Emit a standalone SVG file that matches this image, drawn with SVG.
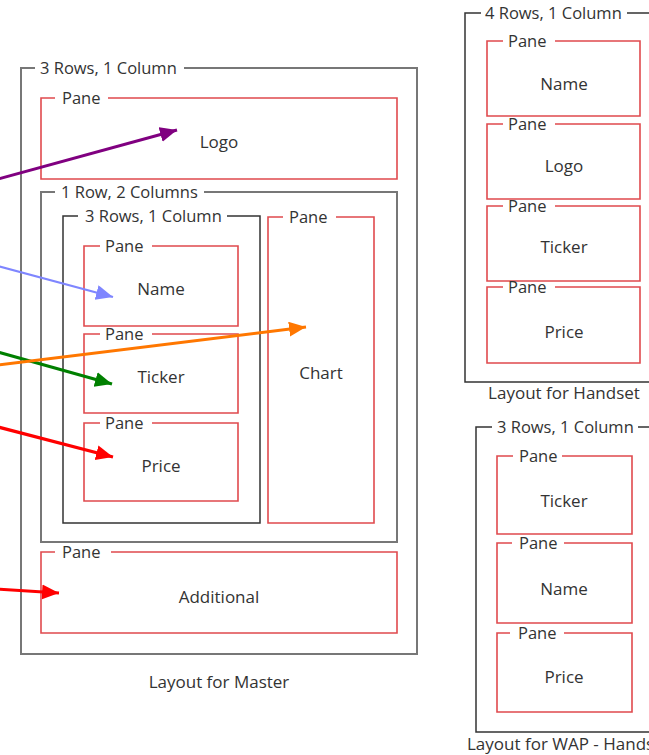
<svg xmlns="http://www.w3.org/2000/svg" width="649" height="755" viewBox="0 0 649 755">
<style>
text{font-family:"Open Sans","Liberation Sans",sans-serif;fill:#333;}
.lbl{font-size:16.5px;}
.name{font-size:17px;text-anchor:middle;}
.grp{fill:none;stroke:#777;stroke-width:2;}
.grpd{fill:none;stroke:#333;stroke-width:1.5;}
.pane{fill:none;stroke:#e04a4e;stroke-width:1.6;}
.conn{fill:none;}
</style>
<defs>
<marker id="ah-purple" markerUnits="userSpaceOnUse" markerWidth="18" markerHeight="16" refX="17" refY="7.5" orient="auto"><path d="M0,0 L17,7.5 L0,15 z" fill="#800080"/></marker>
<marker id="ah-blue" markerUnits="userSpaceOnUse" markerWidth="18" markerHeight="16" refX="17" refY="7.5" orient="auto"><path d="M0,0 L17,7.5 L0,15 z" fill="#7f86ff"/></marker>
<marker id="ah-green" markerUnits="userSpaceOnUse" markerWidth="18" markerHeight="16" refX="17" refY="7.5" orient="auto"><path d="M0,0 L17,7.5 L0,15 z" fill="#008000"/></marker>
<marker id="ah-orange" markerUnits="userSpaceOnUse" markerWidth="18" markerHeight="16" refX="17" refY="7.5" orient="auto"><path d="M0,0 L17,7.5 L0,15 z" fill="#ff7700"/></marker>
<marker id="ah-red" markerUnits="userSpaceOnUse" markerWidth="18" markerHeight="16" refX="17" refY="7.5" orient="auto"><path d="M0,0 L17,7.5 L0,15 z" fill="#ff0000"/></marker>
</defs>
<rect width="649" height="755" fill="#fff"/>

<!-- Master layout -->
<g id="master">
<path class="grp" d="M184,68 H417 V654 H21 V68 H35"/>
<text class="lbl" x="40" y="74">3 Rows, 1 Column</text>
<text class="name" x="219" y="688">Layout for Master</text>
</g>
<g id="pane-logo">
<path class="pane" d="M108,98 H397 V179 H41 V98 H55"/>
<text class="lbl" x="62" y="104">Pane</text>
<text class="name" x="219" y="148">Logo</text>
</g>
<g id="row-2cols">
<path class="grp" d="M204,192 H397 V542 H41 V192 H55"/>
<text class="lbl" x="61" y="198">1 Row, 2 Columns</text>
</g>
<g id="inner-3rows">
<path class="grpd" d="M227,216 H260 V523 H63 V216 H78"/>
<text class="lbl" x="85" y="222">3 Rows, 1 Column</text>
</g>
<g id="pane-chart">
<path class="pane" d="M336,217 H374 V523 H268 V217 H283"/>
<text class="lbl" x="289" y="223">Pane</text>
<text class="name" x="321" y="379">Chart</text>
</g>
<g id="pane-name">
<path class="pane" d="M152,246 H238 V326 H84 V246 H100"/>
<text class="lbl" x="105" y="252">Pane</text>
<text class="name" x="161" y="295">Name</text>
</g>
<g id="pane-ticker">
<path class="pane" d="M152,334 H238 V413 H84 V334 H100"/>
<text class="lbl" x="105" y="340">Pane</text>
<text class="name" x="161" y="383">Ticker</text>
</g>
<g id="pane-price">
<path class="pane" d="M152,423 H238 V501 H84 V423 H100"/>
<text class="lbl" x="105" y="429">Pane</text>
<text class="name" x="161" y="472">Price</text>
</g>
<g id="pane-additional">
<path class="pane" d="M111,552 H397 V633 H41 V552 H55"/>
<text class="lbl" x="62" y="558">Pane</text>
<text class="name" x="219" y="603">Additional</text>
</g>

<!-- Handset layout -->
<g id="handset">
<path class="grpd" d="M627,13 H662 V382 H465 V13 H481"/>
<text class="lbl" x="485" y="19">4 Rows, 1 Column</text>
<text class="name" x="564" y="399">Layout for Handset</text>
</g>
<g id="h-name">
<path class="pane" d="M555,41 H640 V116 H487 V41 H503"/>
<text class="lbl" x="508" y="47">Pane</text>
<text class="name" x="564" y="90">Name</text>
</g>
<g id="h-logo">
<path class="pane" d="M555,124 H640 V199 H487 V124 H503"/>
<text class="lbl" x="508" y="130">Pane</text>
<text class="name" x="564" y="172">Logo</text>
</g>
<g id="h-ticker">
<path class="pane" d="M555,206 H640 V281 H487 V206 H503"/>
<text class="lbl" x="508" y="212">Pane</text>
<text class="name" x="564" y="253">Ticker</text>
</g>
<g id="h-price">
<path class="pane" d="M555,287 H640 V363 H487 V287 H503"/>
<text class="lbl" x="508" y="293">Pane</text>
<text class="name" x="564" y="338">Price</text>
</g>

<!-- WAP layout -->
<g id="wap">
<path class="grpd" d="M638,427 H662 V732 H476 V427 H492"/>
<text class="lbl" x="497" y="433">3 Rows, 1 Column</text>
<text class="name" x="467" y="750" style="text-anchor:start">Layout for WAP - Handset</text>
</g>
<g id="w-ticker">
<path class="pane" d="M562,456 H632 V534 H497 V456 H513"/>
<text class="lbl" x="519" y="462">Pane</text>
<text class="name" x="564" y="507">Ticker</text>
</g>
<g id="w-name">
<path class="pane" d="M564,543 H632 V623 H497 V543 H512"/>
<text class="lbl" x="519" y="549">Pane</text>
<text class="name" x="564" y="595">Name</text>
</g>
<g id="w-price">
<path class="pane" d="M564,633 H632 V712 H497 V633 H510"/>
<text class="lbl" x="518" y="639">Pane</text>
<text class="name" x="564" y="683">Price</text>
</g>

<!-- Connectors -->
<g id="connectors" class="conn">
<line x1="-2" y1="179" x2="177" y2="130" stroke="#800080" stroke-width="3" marker-end="url(#ah-purple)"/>
<line x1="-2" y1="266" x2="113" y2="297" stroke="#7f86ff" stroke-width="2.2" marker-end="url(#ah-blue)"/>
<line x1="-2" y1="352" x2="112" y2="384" stroke="#008000" stroke-width="3.2" marker-end="url(#ah-green)"/>
<line x1="-2" y1="365" x2="306" y2="327" stroke="#ff7700" stroke-width="3" marker-end="url(#ah-orange)"/>
<line x1="-2" y1="427" x2="113" y2="457" stroke="#ff0000" stroke-width="3.2" marker-end="url(#ah-red)"/>
<line x1="-2" y1="589" x2="59" y2="593" stroke="#ff0000" stroke-width="3" marker-end="url(#ah-red)"/>
</g>
</svg>
